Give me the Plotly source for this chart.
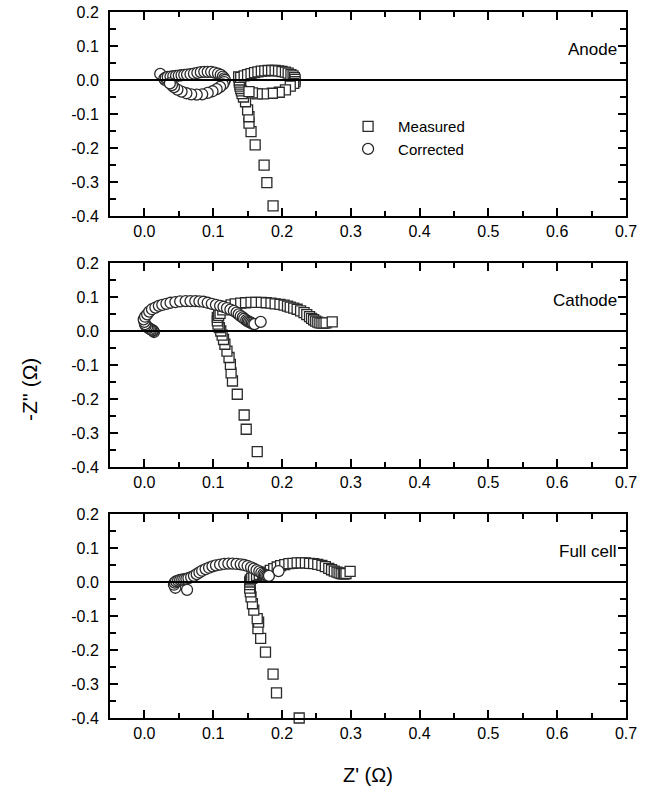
import plotly.graph_objects as go

# ---------------- data (Ω) ----------------
anode_meas_x = [0.187, 0.178, 0.174, 0.161, 0.155, 0.152, 0.152, 0.150, 0.147, 0.144, 0.142, 0.141, 0.140,
                0.139, 0.139, 0.138, 0.138, 0.137, 0.140, 0.145, 0.150, 0.155, 0.160, 0.165, 0.170, 0.175,
                0.180, 0.185, 0.190, 0.195, 0.200, 0.205, 0.209, 0.213, 0.216, 0.218, 0.219, 0.219, 0.217,
                0.212, 0.205, 0.196, 0.186, 0.173, 0.164, 0.157, 0.152]
anode_meas_y = [-0.370, -0.302, -0.250, -0.191, -0.152, -0.127, -0.108, -0.088, -0.064, -0.050, -0.040, -0.032,
                -0.025, -0.018, -0.012, -0.006, 0.000, 0.009, 0.008, 0.012, 0.016, 0.019, 0.022, 0.024, 0.026,
                0.027, 0.028, 0.028, 0.028, 0.027, 0.025, 0.023, 0.020, 0.016, 0.012, 0.007, 0.002, -0.005,
                -0.010, -0.018, -0.029, -0.036, -0.039, -0.041, -0.041, -0.038, -0.034]
anode_corr_x = [0.023, 0.033, 0.030, 0.029, 0.031, 0.034, 0.038, 0.042, 0.046, 0.050, 0.054, 0.058, 0.062,
                0.067, 0.072, 0.077, 0.082, 0.087, 0.092, 0.097, 0.102, 0.107, 0.111, 0.114, 0.116, 0.117,
                0.116, 0.114, 0.110, 0.105, 0.099, 0.092, 0.084, 0.076, 0.068, 0.061, 0.054, 0.048, 0.043,
                0.040, 0.037]
anode_corr_y = [0.018, 0.003, 0.000, 0.004, 0.007, 0.009, 0.010, 0.011, 0.012, 0.013, 0.014, 0.015, 0.016,
                0.017, 0.019, 0.021, 0.023, 0.024, 0.024, 0.024, 0.022, 0.019, 0.015, 0.010, 0.005, 0.000,
                -0.006, -0.013, -0.020, -0.027, -0.033, -0.038, -0.042, -0.043, -0.042, -0.039, -0.034,
                -0.028, -0.021, -0.015, -0.010]

cathode_meas_x = [0.164, 0.148, 0.145, 0.135, 0.128, 0.126, 0.125, 0.123, 0.120, 0.117, 0.115, 0.113, 0.111,
                  0.109, 0.107, 0.106, 0.106, 0.108, 0.110, 0.114, 0.120, 0.126, 0.132, 0.140, 0.147, 0.155,
                  0.162, 0.170, 0.177, 0.184, 0.190, 0.197, 0.203, 0.208, 0.212, 0.217, 0.222, 0.227, 0.232,
                  0.236, 0.240, 0.243, 0.246, 0.249, 0.252, 0.255, 0.258, 0.261, 0.264, 0.273]
cathode_meas_y = [-0.355, -0.289, -0.247, -0.186, -0.147, -0.123, -0.098, -0.078, -0.059, -0.039, -0.025,
                  -0.012, 0.000, 0.010, 0.020, 0.030, 0.040, 0.046, 0.052, 0.062, 0.072, 0.077, 0.080, 0.082,
                  0.083, 0.084, 0.084, 0.084, 0.083, 0.082, 0.080, 0.078, 0.076, 0.073, 0.070, 0.067, 0.064,
                  0.059, 0.054, 0.048, 0.042, 0.037, 0.033, 0.029, 0.026, 0.024, 0.023, 0.023, 0.024, 0.027]
cathode_corr_x = [0.014, 0.013, 0.012, 0.010, 0.008, 0.006, 0.004, 0.002, 0.001, 0.000, -0.001, 0.001, 0.004,
                  0.007, 0.011, 0.016, 0.021, 0.026, 0.032, 0.038, 0.045, 0.052, 0.060, 0.067, 0.074, 0.080,
                  0.086, 0.092, 0.098, 0.104, 0.110, 0.115, 0.120, 0.125, 0.130, 0.134, 0.137, 0.140, 0.143,
                  0.145, 0.148, 0.150, 0.152, 0.154, 0.156, 0.158, 0.160, 0.169]
cathode_corr_y = [-0.003, 0.000, 0.002, 0.004, 0.006, 0.009, 0.012, 0.016, 0.020, 0.027, 0.034, 0.042, 0.049,
                  0.057, 0.064, 0.069, 0.074, 0.077, 0.080, 0.083, 0.085, 0.087, 0.088, 0.088, 0.088, 0.087,
                  0.086, 0.083, 0.080, 0.077, 0.074, 0.071, 0.067, 0.063, 0.059, 0.054, 0.049, 0.044, 0.040,
                  0.036, 0.032, 0.029, 0.027, 0.025, 0.023, 0.021, 0.020, 0.027]

full_meas_x = [0.225, 0.192, 0.187, 0.176, 0.169, 0.165, 0.166, 0.164, 0.159, 0.157, 0.155, 0.154, 0.153,
               0.153, 0.153, 0.154, 0.156, 0.159, 0.163, 0.167, 0.172, 0.178, 0.183, 0.188, 0.193, 0.198,
               0.204, 0.210, 0.216, 0.222, 0.228, 0.234, 0.240, 0.246, 0.252, 0.258, 0.263, 0.268, 0.272,
               0.276, 0.280, 0.283, 0.286, 0.289, 0.291, 0.293, 0.299]
full_meas_y = [-0.400, -0.326, -0.271, -0.206, -0.166, -0.137, -0.118, -0.108, -0.083, -0.064, -0.044, -0.029,
               -0.018, -0.008, 0.000, 0.006, 0.011, 0.015, 0.019, 0.022, 0.025, 0.029, 0.034, 0.039, 0.044,
               0.048, 0.051, 0.054, 0.055, 0.056, 0.056, 0.056, 0.055, 0.054, 0.052, 0.049, 0.045, 0.040,
               0.036, 0.032, 0.029, 0.027, 0.025, 0.024, 0.024, 0.025, 0.031]
full_corr_x = [0.062, 0.045, 0.043, 0.044, 0.046, 0.049, 0.052, 0.055, 0.058, 0.061, 0.064, 0.068, 0.072,
               0.076, 0.080, 0.084, 0.089, 0.094, 0.099, 0.104, 0.110, 0.116, 0.122, 0.128, 0.134, 0.140,
               0.145, 0.150, 0.155, 0.159, 0.163, 0.167, 0.170, 0.173, 0.175, 0.177, 0.179, 0.181, 0.195]
full_corr_y = [-0.023, -0.017, -0.008, -0.002, 0.002, 0.004, 0.006, 0.007, 0.008, 0.009, 0.011, 0.014, 0.018,
               0.023, 0.028, 0.033, 0.038, 0.042, 0.046, 0.049, 0.051, 0.053, 0.054, 0.054, 0.053, 0.052,
               0.050, 0.047, 0.043, 0.039, 0.035, 0.031, 0.027, 0.024, 0.021, 0.019, 0.018, 0.018, 0.032]

panel_names = ["Anode", "Cathode", "Full cell"]
x_tick_vals = [0.0, 0.1, 0.2, 0.3, 0.4, 0.5, 0.6, 0.7]
x_tick_text = ["0.0", "0.1", "0.2", "0.3", "0.4", "0.5", "0.6", "0.7"]
y_tick_vals = [-0.4, -0.3, -0.2, -0.1, 0.0, 0.1, 0.2]
y_tick_text = ["-0.4", "-0.3", "-0.2", "-0.1", "0.0", "0.1", "0.2"]
series_names = ["Measured", "Corrected"]

panels = [
    (anode_meas_x, anode_meas_y, anode_corr_x, anode_corr_y),
    (cathode_meas_x, cathode_meas_y, cathode_corr_x, cathode_corr_y),
    (full_meas_x, full_meas_y, full_corr_x, full_corr_y),
]

# ---------------- figure ----------------
W, H = 653, 793
ML, MR, MT, MB = 110, 27, 12, 75
FONT = "Liberation Sans, Arial, Helvetica, sans-serif"
edge = "#2a2a2a"

fig = go.Figure()
domains = [[0.711, 1.0], [0.3555, 0.6445], [0.0, 0.289]]

for i, (mx, my, cx, cy) in enumerate(panels):
    xa = "x" if i == 0 else f"x{i+1}"
    ya = "y" if i == 0 else f"y{i+1}"
    fig.add_trace(go.Scatter(
        x=mx, y=my, xaxis=xa, yaxis=ya, mode="markers", name=series_names[0],
        showlegend=(i == 0), cliponaxis=False,
        marker=dict(symbol="square", size=10, color="white", line=dict(color=edge, width=1.3)),
    ))
    fig.add_trace(go.Scatter(
        x=cx, y=cy, xaxis=xa, yaxis=ya, mode="markers", name=series_names[1],
        showlegend=(i == 0), cliponaxis=False,
        marker=dict(symbol="circle", size=11, color="white", line=dict(color=edge, width=1.3)),
    ))

axis_common = dict(
    showline=True, linecolor="black", linewidth=2, mirror="ticks",
    ticks="inside", ticklen=8, tickwidth=1.5, tickcolor="black",
    showgrid=False, zeroline=False, automargin=False,
    tickfont=dict(family=FONT, size=16, color="black"),
    minor=dict(ticks="inside", ticklen=5, tickwidth=1.5, tickcolor="black", showgrid=False),
)

layout = dict(
    width=W, height=H, margin=dict(l=ML, r=MR, t=MT, b=MB, autoexpand=False),
    paper_bgcolor="white", plot_bgcolor="white",
    font=dict(family=FONT, color="black"),
    showlegend=True,
    legend=dict(x=0.442, y=0.861, xanchor="left", yanchor="top", bgcolor="rgba(0,0,0,0)",
                borderwidth=0, font=dict(family=FONT, size=15, color="black"),
                tracegroupgap=0, itemwidth=50),
)

for i in range(3):
    xk = "xaxis" if i == 0 else f"xaxis{i+1}"
    yk = "yaxis" if i == 0 else f"yaxis{i+1}"
    ya = "y" if i == 0 else f"y{i+1}"
    xa = "x" if i == 0 else f"x{i+1}"
    layout[xk] = dict(axis_common, anchor=ya, domain=[0, 1], range=[-0.05, 0.7],
                      tickvals=x_tick_vals, ticktext=x_tick_text,
                      minor=dict(axis_common["minor"], dtick=0.05, tick0=0))
    layout[yk] = dict(axis_common, anchor=xa, domain=domains[i], range=[-0.4, 0.2],
                      tickvals=y_tick_vals, ticktext=y_tick_text, ticklabelstandoff=6,
                      minor=dict(axis_common["minor"], dtick=0.05, tick0=0, ticklen=6))

fig.update_layout(**layout)

for i, name in enumerate(panel_names):
    xa = "x" if i == 0 else f"x{i+1}"
    ya = "y" if i == 0 else f"y{i+1}"
    # zero reference line drawn above the markers
    fig.add_shape(type="line", xref=f"{xa} domain", yref=ya, x0=0, x1=1, y0=0, y1=0,
                  line=dict(color="black", width=2), layer="above")
    fig.add_annotation(x=0.69, y=0.09, xref=xa, yref=ya, text=name, showarrow=False,
                       xanchor="right", yanchor="middle",
                       font=dict(family=FONT, size=17, color="black"))

fig.add_annotation(x=-0.155, y=0.4646, xref="paper", yref="paper", text="-Z'' (Ω)", textangle=-90,
                   showarrow=False, xanchor="center", yanchor="middle",
                   font=dict(family=FONT, size=21, color="black"))
fig.add_annotation(x=0.5, y=-0.0807, xref="paper", yref="paper", text="Z' (Ω)",
                   showarrow=False, xanchor="center", yanchor="middle",
                   font=dict(family=FONT, size=20, color="black"))

fig.write_html("out.html", config={"displayModeBar": False},
               post_script="document.body.style.margin='0';document.body.style.overflow='hidden';")
